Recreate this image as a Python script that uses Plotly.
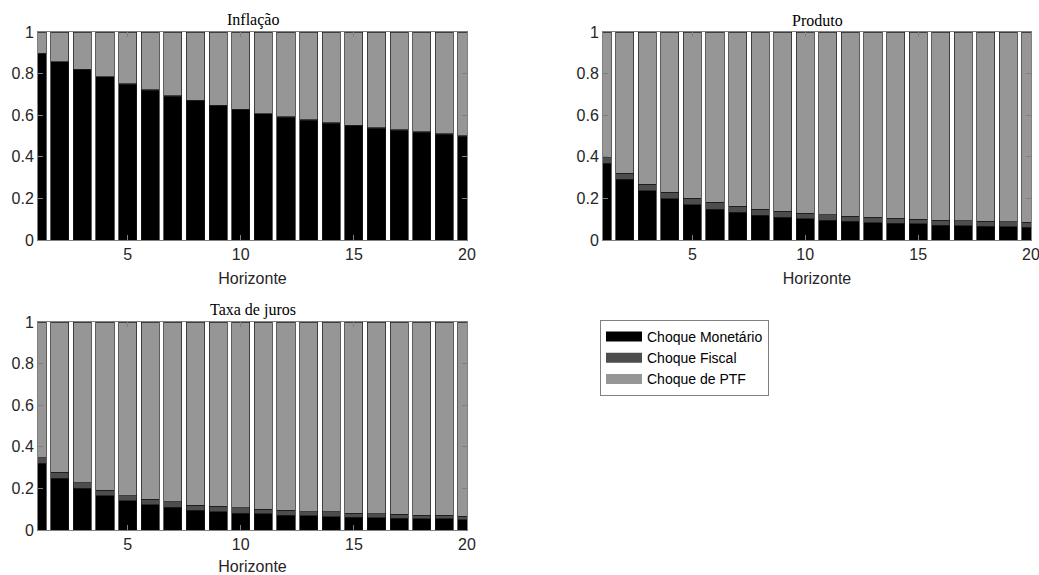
import plotly.graph_objects as go

horizonte = list(range(1, 21))

# Inflação
inf_monetario = [0.896, 0.856, 0.819, 0.784, 0.750, 0.720, 0.691, 0.669, 0.645, 0.626,
                 0.606, 0.590, 0.576, 0.562, 0.549, 0.538, 0.528, 0.518, 0.509, 0.499]
inf_fiscal = [0.002] * 20

# Produto
prod_monetario = [0.368, 0.291, 0.237, 0.198, 0.170, 0.147, 0.133, 0.120, 0.109, 0.102,
                  0.096, 0.090, 0.083, 0.080, 0.077, 0.072, 0.069, 0.067, 0.064, 0.062]
prod_total_mf = [0.395, 0.320, 0.269, 0.229, 0.200, 0.181, 0.162, 0.147, 0.138, 0.128,
                 0.122, 0.115, 0.109, 0.104, 0.099, 0.096, 0.093, 0.090, 0.088, 0.085]

# Taxa de juros
juros_monetario = [0.321, 0.249, 0.200, 0.164, 0.140, 0.122, 0.109, 0.096, 0.088, 0.080,
                   0.077, 0.072, 0.069, 0.064, 0.061, 0.059, 0.056, 0.055, 0.053, 0.050]
juros_total_mf = [0.348, 0.278, 0.226, 0.191, 0.165, 0.149, 0.135, 0.120, 0.114, 0.106,
                  0.100, 0.095, 0.088, 0.087, 0.080, 0.079, 0.075, 0.072, 0.072, 0.067]

series_names = ["Choque Monetário", "Choque Fiscal", "Choque de PTF"]
colors = ["#000000", "#4d4d4d", "#969696"]


def shares(mon, fis):
    ptf = [1 - m - f for m, f in zip(mon, fis)]
    return [mon, fis, ptf]


panels = [
    ("Inflação", shares(inf_monetario, inf_fiscal)),
    ("Produto", shares(prod_monetario, [t - m for t, m in zip(prod_total_mf, prod_monetario)])),
    ("Taxa de juros", shares(juros_monetario, [t - m for t, m in zip(juros_total_mf, juros_monetario)])),
]

W, H = 1039, 575
boxes = [  # left, right, top, bottom in px
    (38, 467, 32, 240),
    (603, 1031, 32, 240),
    (38, 467, 322, 530),
]

fig = go.Figure()
layout = dict(
    width=W, height=H,
    margin=dict(l=0, r=0, t=0, b=0),
    paper_bgcolor="white", plot_bgcolor="white",
    barmode="stack", bargap=0.2,
    showlegend=True,
    legend=dict(x=600 / W, y=1 - 320 / H, xanchor="left", yanchor="top",
                bordercolor="#808080", borderwidth=1, bgcolor="white",
                font=dict(family="Liberation Sans, Arial, sans-serif", size=14, color="#000000"),
                tracegroupgap=0, itemwidth=36),
    annotations=[],
)

tickfont = dict(family="Liberation Sans, Arial, sans-serif", size=16, color="#262626")

for i, ((title, vals), (l, r, t, b)) in enumerate(zip(panels, boxes)):
    k = "" if i == 0 else str(i + 1)
    for j, (name, col) in enumerate(zip(series_names, colors)):
        fig.add_trace(go.Bar(
            x=horizonte, y=vals[j], name=name, width=0.8,
            marker=dict(color=col, line=dict(color="#1a1a1a", width=0.7)),
            xaxis="x" + k, yaxis="y" + k,
            showlegend=False, legendgroup=name,
        ))
    layout["xaxis" + k] = dict(
        domain=[l / W, r / W], anchor="y" + k, range=[1.04, 20], automargin=False,
        tickvals=[5, 10, 15, 20], ticks="inside", ticklen=5, tickcolor="#808080",
        showline=True, linecolor="#808080", linewidth=1, mirror="ticks",
        showgrid=False, zeroline=False, tickfont=tickfont, ticklabeloverflow="allow",
        title=dict(text="Horizonte", font=tickfont, standoff=10),
    )
    layout["yaxis" + k] = dict(
        domain=[1 - b / H, 1 - t / H], anchor="x" + k, range=[0, 1], automargin=False,
        tickvals=[0, 0.2, 0.4, 0.6, 0.8, 1], ticktext=["0", "0.2", "0.4", "0.6", "0.8", "1"],
        ticks="inside", ticklen=5, tickcolor="#808080",
        showline=True, linecolor="#808080", linewidth=1, mirror="ticks",
        showgrid=False, zeroline=False, tickfont=tickfont, ticklabeloverflow="allow",
    )
    layout["annotations"].append(dict(
        text=title, x=(l + r) / 2 / W, y=1 - (t - 1) / H, xref="paper", yref="paper",
        xanchor="center", yanchor="bottom", showarrow=False,
        font=dict(family="Liberation Serif, DejaVu Serif, serif", size=16, color="#000000"),
    ))

# legend entries (wide swatches, linked to the bar series by legendgroup)
for name, col in zip(series_names, colors):
    fig.add_trace(go.Scatter(
        x=[None], y=[None], mode="lines", name=name, legendgroup=name,
        line=dict(color=col, width=14), showlegend=True, hoverinfo="skip",
    ))

fig.update_layout(**layout)
fig.write_html("out.html")
